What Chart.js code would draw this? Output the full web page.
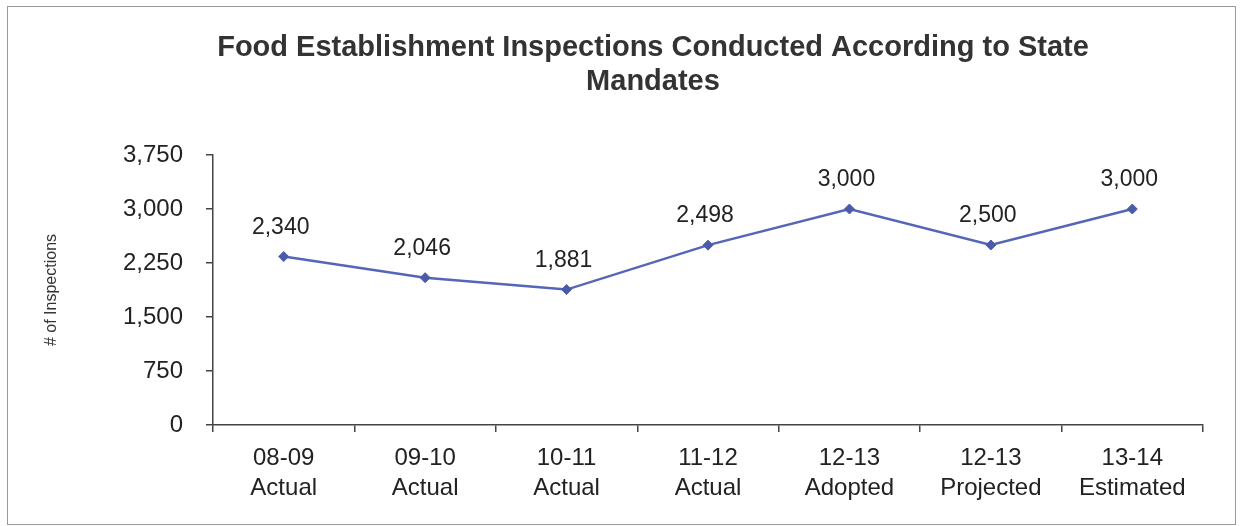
<!DOCTYPE html>
<html>
<head>
<meta charset="utf-8">
<script src="https://cdn.jsdelivr.net/npm/chart.js@4"></script>
<style>
  html, body { margin: 0; padding: 0; background: #fff; }
  #wrap { width: 1241px; height: 526px; }
</style>
</head>
<body>
<div id="wrap"><canvas id="inspChart" width="1241" height="526"></canvas></div>
<script>
const yearLabels = ['08-09', '09-10', '10-11', '11-12', '12-13', '12-13', '13-14'];
const statusLabels = ['Actual', 'Actual', 'Actual', 'Actual', 'Adopted', 'Projected', 'Estimated'];
const inspections = [2340, 2046, 1881, 2498, 3000, 2500, 3000];
const yTicks = [0, 750, 1500, 2250, 3000, 3750];
const titleLines = ['Food Establishment Inspections Conducted According to State', 'Mandates'];

const fmt = v => Number(v).toLocaleString('en-US');

// outer frame + title
const framePlugin = {
  id: 'frame',
  beforeDraw(chart) {
    const ctx = chart.ctx;
    ctx.save();
    ctx.strokeStyle = '#9a9a9a';
    ctx.lineWidth = 1;
    ctx.strokeRect(7.5, 6.5, 1228, 518);
    ctx.fillStyle = '#333';
    ctx.font = 'bold 29px "Liberation Sans", Arial, sans-serif';
    ctx.textAlign = 'center';
    ctx.textBaseline = 'middle';
    titleLines.forEach((t, i) => ctx.fillText(t, 653, 48 + i * 34));
    ctx.restore();
  }
};

// value labels above points
const valueLabels = {
  id: 'valueLabels',
  afterDatasetsDraw(chart) {
    const ctx = chart.ctx;
    const meta = chart.getDatasetMeta(0);
    ctx.save();
    ctx.fillStyle = '#222';
    ctx.font = '23px "Liberation Sans", Arial, sans-serif';
    ctx.textAlign = 'center';
    ctx.textBaseline = 'middle';
    meta.data.forEach((pt, i) => {
      ctx.fillText(fmt(inspections[i]), pt.x - 3, pt.y - 29);
    });
    ctx.restore();
  }
};

new Chart(document.getElementById('inspChart'), {
  type: 'line',
  data: {
    labels: yearLabels.map((y, i) => [y, statusLabels[i]]),
    datasets: [{
      data: inspections,
      borderColor: '#5565b8',
      backgroundColor: '#4a5ca8',
      borderWidth: 2.5,
      pointStyle: 'rectRot',
      pointRadius: 5,
      pointBorderWidth: 1,
      pointBorderColor: '#4a5ca8',
      tension: 0
    }]
  },
  options: {
    responsive: false,
    animation: false,
    devicePixelRatio: 1,
    layout: { padding: { left: 0, right: 38, top: 155, bottom: 0 } },
    plugins: {
      legend: { display: false },
      title: { display: false },
      tooltip: { enabled: false }
    },
    scales: {
      x: {
        offset: true,
        grid: { display: true, drawOnChartArea: false, offset: true, tickLength: 7, color: '#444', lineWidth: 1.5 },
        border: { display: true, color: '#444', width: 1.5 },
        ticks: {
          color: '#222',
          padding: 11,
          maxRotation: 0,
          font: { family: '"Liberation Sans", Arial, sans-serif', size: 24, lineHeight: 1.25 }
        },
        afterFit(scale) { scale.height = 101; }
      },
      y: {
        min: 0,
        max: 3750,
        afterBuildTicks(scale) { scale.ticks = yTicks.map(v => ({ value: v })); },
        grid: { display: true, drawOnChartArea: false, tickLength: 7, color: '#444', lineWidth: 1.5 },
        border: { display: true, color: '#444', width: 1.5 },
        ticks: {
          color: '#222',
          padding: 23,
          callback: v => fmt(v),
          font: { family: '"Liberation Sans", Arial, sans-serif', size: 24 }
        },
        title: {
          display: true,
          text: '# of Inspections',
          color: '#333',
          padding: { top: 42, bottom: 0 },
          font: { family: '"Liberation Sans", Arial, sans-serif', size: 16 }
        },
        afterFit(scale) { scale.width = 213; }
      }
    }
  },
  plugins: [framePlugin, valueLabels]
});
</script>
</body>
</html>
